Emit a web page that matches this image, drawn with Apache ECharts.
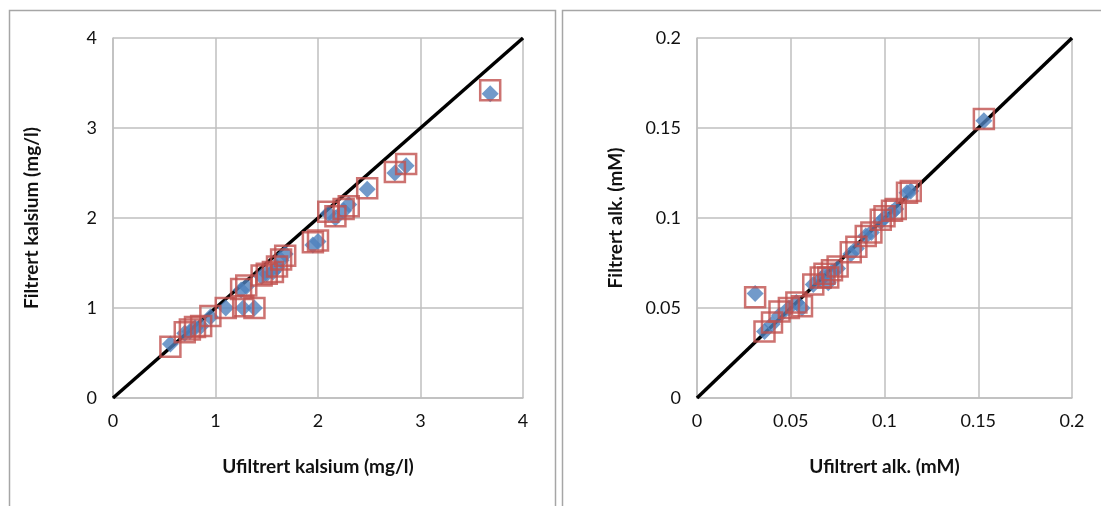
<!DOCTYPE html>
<html>
<head>
<meta charset="utf-8">
<script src="https://cdn.jsdelivr.net/npm/echarts@6/dist/echarts.min.js"></script>
<style>
  html, body { margin: 0; padding: 0; background: #fff; }
  #chart { width: 1101px; height: 506px; }
</style>
</head>
<body>
<div id="chart"></div>
<script>
// Kalsium: ufiltrert vs filtrert (mg/l)
const caUnfiltered = [0.56, 0.70, 0.75, 0.80, 0.86, 0.95, 1.10, 1.27, 1.38, 1.25, 1.30, 1.45, 1.50, 1.56, 1.60, 1.64, 1.68, 1.95, 2.00, 2.10, 2.17, 2.25, 2.30, 2.48, 2.75, 2.86, 3.68];
const caFilteredA  = [0.60, 0.72, 0.74, 0.78, 0.80, 0.90, 1.00, 1.00, 1.00, 1.20, 1.24, 1.35, 1.38, 1.40, 1.45, 1.53, 1.60, 1.70, 1.74, 2.05, 2.00, 2.08, 2.15, 2.32, 2.50, 2.58, 3.38];
const caFilteredB  = [0.57, 0.73, 0.76, 0.79, 0.80, 0.91, 1.00, 1.02, 1.00, 1.21, 1.25, 1.36, 1.38, 1.40, 1.46, 1.54, 1.58, 1.73, 1.75, 2.07, 2.02, 2.10, 2.13, 2.33, 2.51, 2.60, 3.42];

// Alkalitet: ufiltrert vs filtrert (mM)
const alkUnfiltered = [0.031, 0.036, 0.040, 0.044, 0.049, 0.053, 0.056, 0.062, 0.066, 0.068, 0.070, 0.072, 0.075, 0.082, 0.085, 0.090, 0.093, 0.098, 0.100, 0.104, 0.106, 0.112, 0.114, 0.153];
const alkFilteredA  = [0.058, 0.037, 0.041, 0.046, 0.050, 0.053, 0.050, 0.063, 0.066, 0.068, 0.064, 0.070, 0.072, 0.080, 0.083, 0.090, 0.092, 0.098, 0.100, 0.103, 0.105, 0.114, 0.115, 0.154];
const alkFilteredB  = [0.056, 0.037, 0.042, 0.048, 0.050, 0.053, 0.051, 0.063, 0.067, 0.069, 0.067, 0.071, 0.073, 0.081, 0.084, 0.090, 0.092, 0.099, 0.101, 0.104, 0.105, 0.114, 0.115, 0.155];

const caTicks = [0, 1, 2, 3, 4];
const alkTicks = [0, 0.05, 0.1, 0.15, 0.2];

const xTitles = ['Ufiltrert kalsium (mg/l)', 'Ufiltrert alk. (mM)'];
const yTitles = ['Filtrert kalsium (mg/l)', 'Filtrert alk. (mM)'];

const pair = (xs, ys) => xs.map((x, i) => [x, ys[i]]);

const FONT = 'Lato, "Open Sans", sans-serif';
const gridColor = '#bfbfbf';
const blue = '#4F81BD';
const red = '#C0504D';
const diamond = 'path://M0,-1L1,0L0,1L-1,0Z';

function valueAxis(gridIndex, ticks, name, isY) {
  const step = ticks[1] - ticks[0];
  return {
    type: 'value',
    gridIndex: gridIndex,
    min: ticks[0],
    max: ticks[ticks.length - 1],
    interval: step,
    name: name,
    nameLocation: 'middle',
    nameGap: isY ? 72 : 59,
    nameTextStyle: { fontFamily: FONT, fontSize: 19, fontWeight: 'bold', color: '#111' },
    axisLine: { show: true, lineStyle: { color: gridColor, width: 1.5 } },
    axisTick: { show: false },
    splitLine: { show: true, lineStyle: { color: gridColor, width: 1.5 } },
    axisLabel: {
      fontFamily: FONT, fontSize: 18, color: '#111',
      margin: isY ? 16 : 14,
      formatter: v => String(Math.round(v * 1000) / 1000)
    }
  };
}

function panelSeries(gi, xs, ya, yb, lineMax) {
  return [
    {
      type: 'line', xAxisIndex: gi, yAxisIndex: gi,
      data: [[0, 0], [lineMax, lineMax]],
      symbol: 'none', silent: true,
      lineStyle: { color: '#000', width: 3.5 }, z: 1
    },
    {
      type: 'scatter', xAxisIndex: gi, yAxisIndex: gi,
      data: pair(xs, ya),
      symbol: diamond, symbolSize: 17,
      itemStyle: { color: blue }, z: 2
    },
    {
      type: 'scatter', xAxisIndex: gi, yAxisIndex: gi,
      data: pair(xs, yb),
      symbol: 'rect', symbolSize: 20,
      itemStyle: { color: 'rgba(0,0,0,0)', borderColor: red, borderWidth: 2.5 }, z: 3
    }
  ];
}

const chart = echarts.init(document.getElementById('chart'), null, { renderer: 'canvas' });
chart.setOption({
  backgroundColor: '#fff',
  animation: false,
  graphic: [
    { type: 'rect', shape: { x: 9.5, y: 10.5, width: 546, height: 520 }, style: { fill: 'none', stroke: '#a6a6a6', lineWidth: 1.5 }, z: -10 },
    { type: 'rect', shape: { x: 562.5, y: 10.5, width: 560, height: 520 }, style: { fill: 'none', stroke: '#a6a6a6', lineWidth: 1.5 }, z: -10 }
  ],
  grid: [
    { left: 113, right: 1101 - 523, top: 38, bottom: 506 - 398 },
    { left: 697, right: 1101 - 1072, top: 38, bottom: 506 - 398 }
  ],
  xAxis: [
    valueAxis(0, caTicks, xTitles[0], false),
    valueAxis(1, alkTicks, xTitles[1], false)
  ],
  yAxis: [
    valueAxis(0, caTicks, yTitles[0], true),
    valueAxis(1, alkTicks, yTitles[1], true)
  ],
  series: [
    ...panelSeries(0, caUnfiltered, caFilteredA, caFilteredB, 4),
    ...panelSeries(1, alkUnfiltered, alkFilteredA, alkFilteredB, 0.2)
  ]
});
</script>
</body>
</html>
